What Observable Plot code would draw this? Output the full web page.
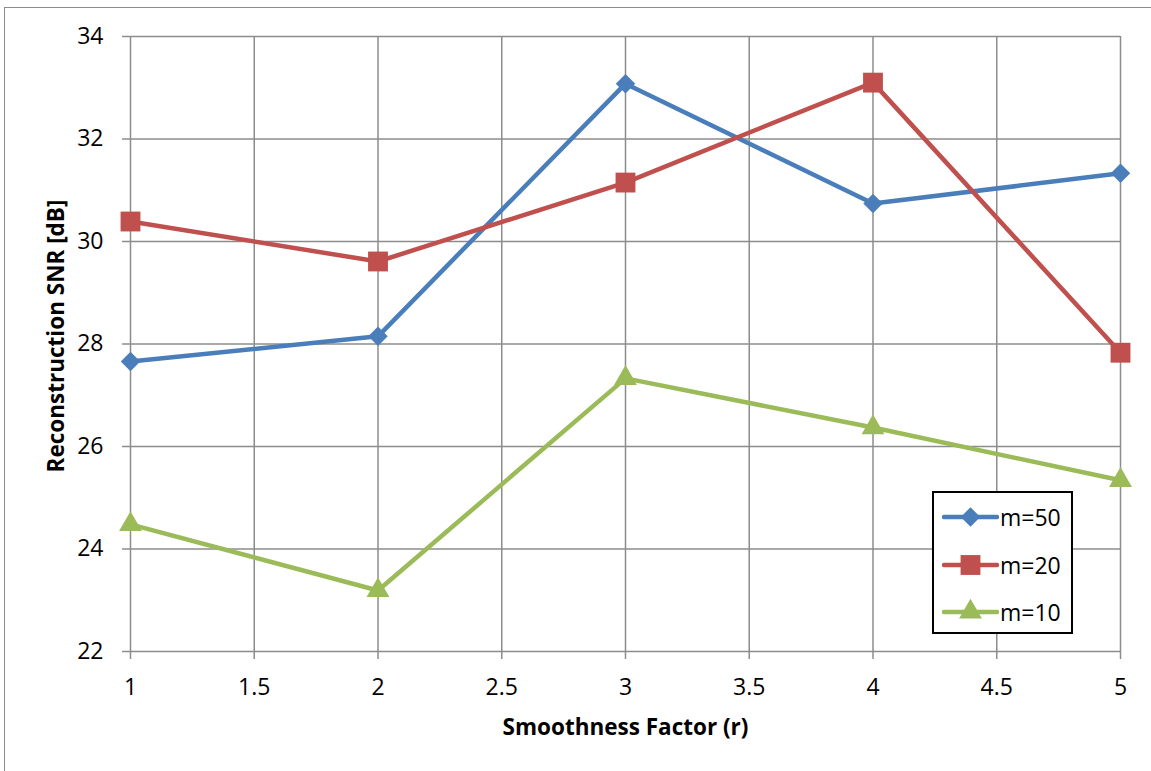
<!DOCTYPE html>
<html>
<head>
<meta charset="utf-8">
<script src="https://cdn.jsdelivr.net/npm/d3@7"></script>
<script src="https://cdn.jsdelivr.net/npm/@observablehq/plot@0.6"></script>
<style>
  html, body { margin: 0; padding: 0; background: #fff; overflow: hidden; }
  #wrap { position: relative; width: 1151px; height: 771px; }
  #border { position: absolute; left: 4px; top: 7px; width: 1200px; height: 800px; border: 1.5px solid #8c8c8c; box-sizing: border-box; }
  #chart { position: absolute; left: 0; top: 0; }
  #legend { position: absolute; left: 932px; top: 491px; width: 141px; height: 143px; border: 2px solid #000; box-sizing: border-box; background: #fff; font-family: "Open Sans", sans-serif; font-size: 23px; }
  .row { position: absolute; left: 8px; height: 30px; display: flex; align-items: center; }
  .row span { margin-left: 1px; }
</style>
</head>
<body>
<div id="wrap">
  <div id="border"></div>
  <div id="chart"></div>
  <div id="legend"></div>
</div>
<script>
const rValues = [1, 2, 3, 4, 5];
const seriesNames = ["m=50", "m=20", "m=10"];
const m50 = [27.66, 28.15, 33.08, 30.74, 31.33];
const m20 = [30.39, 29.61, 31.15, 33.10, 27.83];
const m10 = [24.48, 23.19, 27.33, 26.37, 25.34];
const colors = ["#4A7EBB", "#C0504D", "#9BBB59"];
const symbols = ["diamond2", "square", "triangle"];
const symbolR = [8.8, 11.2, 8.5];
const xTicks = [1, 1.5, 2, 2.5, 3, 3.5, 4, 4.5, 5];
const yTicks = [22, 24, 26, 28, 30, 32, 34];

const seriesValues = [m50, m20, m10];
const data = [];
seriesNames.forEach((name, i) => {
  rValues.forEach((r, j) => data.push({series: name, r, snr: seriesValues[i][j]}));
});

const font = "'Open Sans', sans-serif";
const grid = "#8c8c8c";

const marks = [
  Plot.gridX(xTicks, {stroke: grid, strokeOpacity: 1, strokeWidth: 1.5}),
  Plot.gridY(yTicks, {stroke: grid, strokeOpacity: 1, strokeWidth: 1.5}),
  Plot.axisX(xTicks, {tickSize: 8, tickPadding: 19, stroke: grid, strokeWidth: 1.5, fill: "#000", fontSize: 23, label: null, tickFormat: d => String(d)}),
  Plot.axisY(yTicks, {tickSize: 8, tickPadding: 19, stroke: grid, strokeWidth: 1.5, fill: "#000", fontSize: 23, label: null, tickFormat: d => String(d)}),
];
seriesNames.forEach((name, i) => {
  const d = data.filter(e => e.series === name);
  marks.push(Plot.line(d, {x: "r", y: "snr", stroke: colors[i], strokeWidth: 4.5}));
  marks.push(Plot.dot(d, {x: "r", y: "snr", fill: colors[i], symbol: () => symbols[i], r: symbolR[i], stroke: "none"}));
});
marks.push(Plot.text(["Reconstruction SNR [dB]"], {frameAnchor: "left", textAnchor: "middle", lineAnchor: "middle", text: d => d, rotate: -90, dx: -74, dy: -8, fontSize: 22.5, fontWeight: "bold", fill: "#000"}));
marks.push(Plot.text(["Smoothness Factor (r)"], {frameAnchor: "bottom", textAnchor: "middle", lineAnchor: "middle", text: d => d, dy: 76, fontSize: 22.5, fontWeight: "bold", fill: "#000"}));

const chart = Plot.plot({
  width: 1151,
  height: 771,
  marginLeft: 130,
  marginRight: 31,
  marginTop: 36,
  marginBottom: 120,
  style: {fontFamily: font, background: "transparent", overflow: "visible"},
  x: {domain: [1, 5]},
  y: {domain: [22, 34]},
  symbol: {type: "identity"},
  marks
});
document.getElementById("chart").appendChild(chart);

// legend
const legend = document.getElementById("legend");
const rowTops = [9, 57, 104];
seriesNames.forEach((name, i) => {
  const row = document.createElement("div");
  row.className = "row";
  row.style.top = rowTops[i] + "px";
  const svg = d3.create("svg").attr("width", 57).attr("height", 30);
  svg.append("line").attr("x1", 2).attr("x2", 55).attr("y1", 15).attr("y2", 15)
    .attr("stroke", colors[i]).attr("stroke-width", 4.5).attr("stroke-linecap", "round");
  const sym = {diamond2: d3.symbolDiamond2, square: d3.symbolSquare, triangle: d3.symbolTriangle}[symbols[i]];
  svg.append("path").attr("transform", "translate(28.5,15)")
    .attr("d", d3.symbol(sym, Math.PI * symbolR[i] * symbolR[i])())
    .attr("fill", colors[i]);
  row.appendChild(svg.node());
  const t = document.createElement("span");
  t.textContent = name;
  row.appendChild(t);
  legend.appendChild(row);
});
</script>
</body>
</html>
